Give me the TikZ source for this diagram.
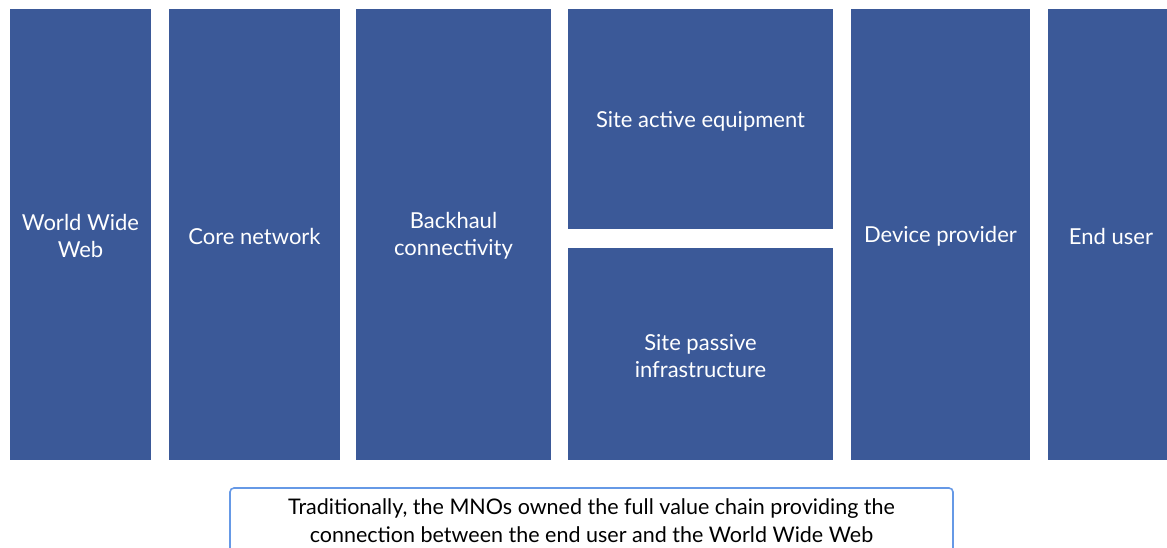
\documentclass[tikz,border=0pt]{standalone}
\usepackage{fontspec}
\setmainfont{Lato}
\definecolor{chainblue}{RGB}{59,89,152}
\definecolor{noteedge}{RGB}{102,153,230}
\begin{document}
\begin{tikzpicture}[x=1pt,y=-1pt,
  stagebox/.style={fill=chainblue,draw=none},
  stage/.style={text=white,align=center,font=\fontsize{22}{27}\selectfont},
  notebox/.style={draw=noteedge,line width=1.6pt,rounded corners=4pt,fill=white},
  note/.style={text=black,align=center,font=\fontsize{21.5}{28}\selectfont}]
\useasboundingbox (0,0) rectangle (1167,548);
\begin{scope}
\clip (0,0) rectangle (1167,548);
% value chain stages, left to right
\fill[stagebox] (10,9) rectangle (151,460);
\node[stage] (www) at (80.5,236) {World Wide\\Web};
\fill[stagebox] (169,9) rectangle (340,460);
\node[stage] (core) at (254.5,236) {Core network};
\fill[stagebox] (356,9) rectangle (551,460);
\node[stage] (back) at (453.5,236) {Backhaul\\connectivity};
\fill[stagebox] (568,9) rectangle (833,229);
\node[stage] (active) at (700.5,121) {Site active equipment};
\fill[stagebox] (568,248) rectangle (833,460);
\node[stage] (passive) at (700.5,356) {Site passive\\infrastructure};
\fill[stagebox] (851,9) rectangle (1030,460);
\node[stage] (device) at (940.5,236) {Device provider};
\fill[stagebox] (1048,9) rectangle (1180,460);
\node[stage] (user) at (1111,236) {End user};
% explanatory note below the chain
\draw[notebox] (230,488) rectangle (953,570);
\node[note] (note) at (591.5,521) {Traditionally, the MNOs owned the full value chain providing the\\connection between the end user and the World Wide Web};
\end{scope}
\end{tikzpicture}
\end{document}
